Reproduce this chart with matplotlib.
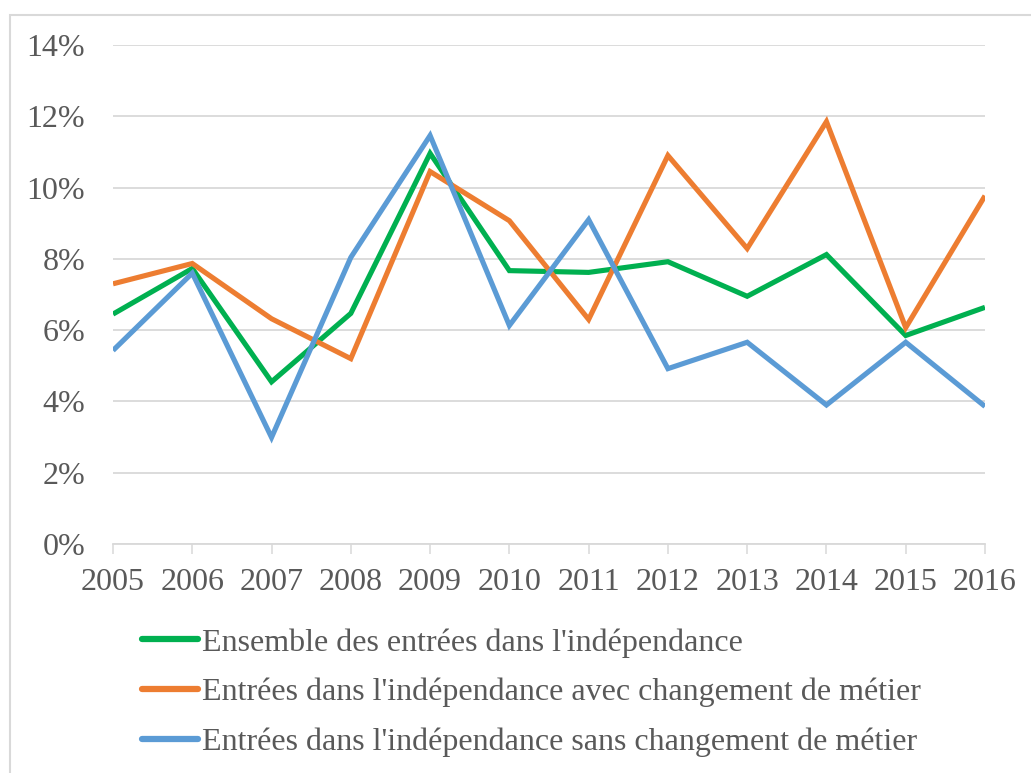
import matplotlib.pyplot as plt
from matplotlib.patches import Rectangle
from matplotlib.ticker import FuncFormatter

years = [2005, 2006, 2007, 2008, 2009, 2010, 2011, 2012, 2013, 2014, 2015, 2016]
ensemble = [6.45, 7.73, 4.55, 6.47, 10.96, 7.67, 7.62, 7.92, 6.95, 8.12, 5.85, 6.64]
avec_chg = [7.30, 7.87, 6.32, 5.20, 10.45, 9.07, 6.30, 10.90, 8.29, 11.85, 6.07, 9.77]
sans_chg = [5.43, 7.60, 2.99, 8.04, 11.46, 6.13, 9.10, 4.92, 5.66, 3.90, 5.66, 3.86]

labels = ["Ensemble des entrées dans l'indépendance",
          "Entrées dans l'indépendance avec changement de métier",
          "Entrées dans l'indépendance sans changement de métier"]
colors = ['#00B050', '#ED7D31', '#5B9BD5']

plt.rcParams['font.family'] = ['Liberation Serif', 'DejaVu Serif']
txt = '#595959'
grid = '#D9D9D9'
fs = 23

fig = plt.figure(figsize=(10.31, 7.73), dpi=100)
W, H = 1031, 773
ax = fig.add_axes([113 / W, 1 - 544 / H, (985 - 113) / W, (544 - 45) / H])

for vals, lab, c in zip([ensemble, avec_chg, sans_chg], labels, colors):
    ax.plot(years, vals, color=c, lw=3.7, label=lab, solid_joinstyle='miter',
            solid_capstyle='butt', zorder=3)

ax.set_xlim(2005, 2016)
ax.set_ylim(0, 14)
ax.set_yticks(range(0, 15, 2))
ax.yaxis.set_major_formatter(FuncFormatter(lambda v, p: f'{v:.0f}%'))
ax.set_xticks(years)
ax.grid(axis='y', color=grid, lw=1.3, zorder=0)
ax.set_axisbelow(True)
for s in ['left', 'right', 'top']:
    ax.spines[s].set_visible(False)
ax.spines['bottom'].set_color(grid)
ax.spines['bottom'].set_linewidth(1.3)
ax.tick_params(axis='y', length=0, pad=20, labelsize=fs, labelcolor=txt)
ax.tick_params(axis='x', length=7, width=1.1, color=grid, direction='out',
               pad=10, labelsize=fs, labelcolor=txt)

leg = ax.legend(loc='upper left', bbox_to_anchor=(142 / W, 1 - 628 / H),
                bbox_transform=fig.transFigure, frameon=False, fontsize=fs,
                handlelength=1.75, handletextpad=0.12, labelspacing=0.64,
                borderpad=0, borderaxespad=0)
for t in leg.get_texts():
    t.set_color(txt)
for h in leg.legend_handles:
    h.set_linewidth(4.5)
    h.set_solid_capstyle('round')

fig.patches.append(Rectangle((10 / W, -0.1), 1.2, 1.1 - 15 / H, transform=fig.transFigure,
                             fill=False, edgecolor=grid, lw=1.5))

fig.savefig('out.png', dpi=100)
